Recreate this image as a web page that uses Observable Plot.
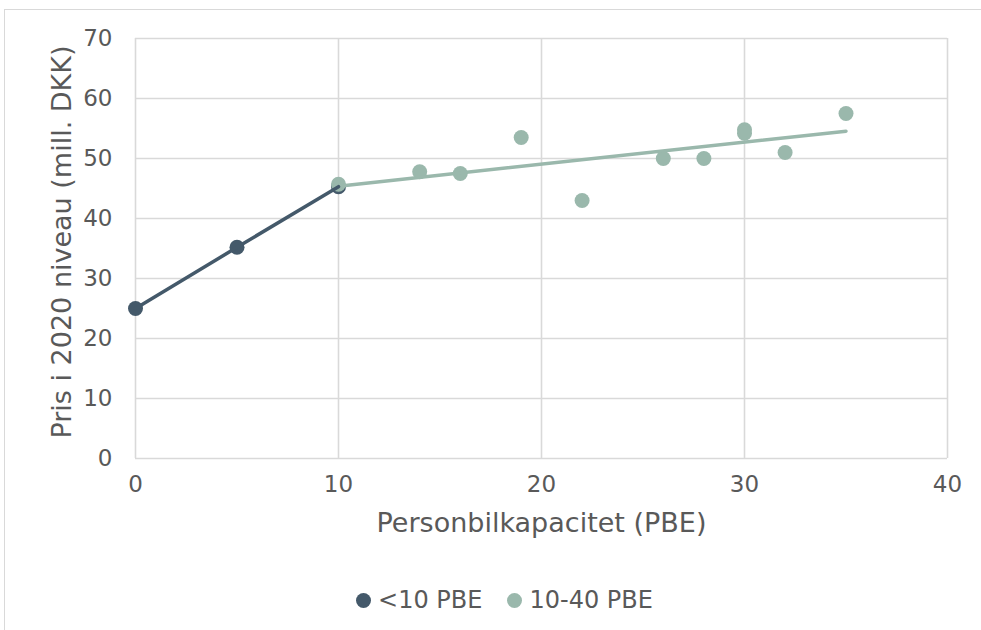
<!DOCTYPE html>
<html>
<head>
<meta charset="utf-8">
<script src="https://cdn.jsdelivr.net/npm/d3@7"></script>
<script src="https://cdn.jsdelivr.net/npm/@observablehq/plot@0.6"></script>
<style>
  html, body { margin: 0; padding: 0; background: #fff; }
  #wrap { position: relative; width: 981px; height: 630px; overflow: hidden; font-family: "DejaVu Sans", Verdana, sans-serif; }
  #frame { position: absolute; left: 4px; top: 9px; width: 1000px; height: 700px; border-top: 1.5px solid #d9d9d9; border-left: 1.5px solid #d9d9d9; pointer-events: none; }
  #chart { position: absolute; left: 0; top: 0; }
  #legend { position: absolute; left: 14px; top: 585px; width: 981px; display: flex; justify-content: center; gap: 25px; font-size: 24px; color: #595959; line-height: 30px; }
  .item { display: flex; align-items: center; gap: 7px; }
  .sw { width: 15px; height: 15px; border-radius: 50%; display: inline-block; }
</style>
</head>
<body>
<div id="wrap">
  <div id="frame"></div>
  <div id="chart"></div>
  <div id="legend"></div>
</div>
<script>
// Series names
const seriesNames = ["<10 PBE", "10-40 PBE"];
const seriesColors = ["#44596a", "#9ab8ac"];

// Series 1: <10 PBE
const smallX = [0, 5, 10];
const smallY = [25, 35.2, 45.3];

// Series 2: 10-40 PBE
const largeX = [10, 14, 16, 19, 22, 26, 28, 30, 30, 32, 35];
const largeY = [45.7, 47.8, 47.5, 53.5, 43, 50, 50, 54.8, 54.2, 51, 57.5];

// Ticks
const xTicks = [0, 10, 20, 30, 40];
const yTicks = [0, 10, 20, 30, 40, 50, 60, 70];

const xTitle = "Personbilkapacitet (PBE)";
const yTitle = "Pris i 2020 niveau (mill. DKK)";

const small = smallX.map((x, i) => ({x, y: smallY[i]}));
const large = largeX.map((x, i) => ({x, y: largeY[i]}));

const grid = "#d9d9d9";
const textColor = "#595959";

const chart = Plot.plot({
  width: 981,
  height: 545,
  marginTop: 38,
  marginLeft: 135,
  marginRight: 34,
  marginBottom: 87,
  style: { fontFamily: "'DejaVu Sans', Verdana, sans-serif", fontSize: "23px", color: textColor, background: "transparent", overflow: "visible" },
  x: { domain: [0, 40], ticks: xTicks },
  y: { domain: [0, 70], ticks: yTicks },
  marks: [
    Plot.gridX(xTicks, { stroke: grid, strokeOpacity: 1, strokeWidth: 1.6 }),
    Plot.gridY(yTicks, { stroke: grid, strokeOpacity: 1, strokeWidth: 1.6 }),
    Plot.axisX(xTicks, { tickSize: 0, tickPadding: 17, fontSize: 23, fill: textColor, label: null }),
    Plot.axisY(yTicks, { tickSize: 0, tickPadding: 23, fontSize: 23, fill: textColor, label: null }),
    Plot.text([xTitle], { frameAnchor: "bottom", textAnchor: "middle", dy: 73, fontSize: 27, fill: textColor }),
    Plot.text([yTitle], { frameAnchor: "left", textAnchor: "middle", rotate: -90, dx: -73, dy: -6.5, fontSize: 27, fill: textColor }),
    Plot.dot(small, { x: "x", y: "y", r: 7.5, fill: seriesColors[0], stroke: "none" }),
    Plot.dot(large, { x: "x", y: "y", r: 7.5, fill: seriesColors[1], stroke: "none" }),
    Plot.linearRegressionY(large, { x: "x", y: "y", ci: 0, stroke: seriesColors[1], strokeWidth: 3.5 }),
    Plot.line(small, { x: "x", y: "y", stroke: seriesColors[0], strokeWidth: 3.5 })
  ]
});
document.getElementById("chart").appendChild(chart);

const legend = document.getElementById("legend");
seriesNames.forEach((name, i) => {
  const item = document.createElement("div");
  item.className = "item";
  const sw = document.createElement("span");
  sw.className = "sw";
  sw.style.background = seriesColors[i];
  const t = document.createElement("span");
  t.textContent = name;
  item.appendChild(sw);
  item.appendChild(t);
  legend.appendChild(item);
});
</script>
</body>
</html>
